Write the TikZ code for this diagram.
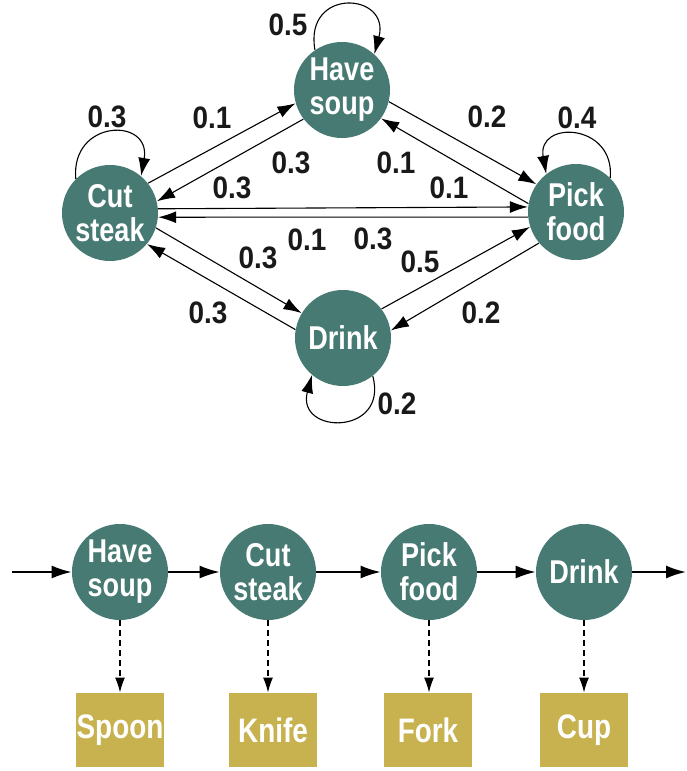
\documentclass[tikz,border=0pt]{standalone}
\usepackage{fontspec}
\newfontfamily\condfont[FakeStretch=0.82]{Liberation Sans}
\newfontfamily\probfont[FakeStretch=0.9]{Liberation Sans}
\usetikzlibrary{arrows.meta}

\definecolor{stateteal}{HTML}{467A73}
\definecolor{toolgold}{HTML}{C8B250}

\tikzset{
    state/.style={circle, fill=stateteal, minimum size=48pt, inner sep=0pt,
        text=white, align=center, font=\condfont\bfseries\fontsize{16.5}{17}\selectfont},
    tool/.style={rectangle, fill=toolgold, minimum width=44pt, minimum height=37pt,
        inner sep=0pt, text=white, font=\condfont\bfseries\fontsize{17}{17}\selectfont},
    prob/.style={inner sep=0pt, text=black!90, font=\probfont\bfseries\fontsize{15.5}{15.5}\selectfont},
    trans/.style={-{Latex[length=9pt,width=6pt]}, line width=0.55pt},
    flow/.style={-{Latex[length=10pt,width=6.5pt]}, line width=0.9pt},
    emits/.style={dash pattern=on 3pt off 2pt, -{Latex[length=7.5pt,width=5pt]}, line width=0.7pt}
}

\begin{document}
\begin{tikzpicture}[x=0.5pt, y=0.5pt]
    \useasboundingbox[fill=white] (0,0) rectangle (686,-771);

    % state graph
    \node[state] (soup)  at (342,-90)  {Have\\soup};
    \node[state] (steak) at (110,-213) {Cut\\steak};
    \node[state] (pick)  at (576,-212) {Pick\\food};
    \node[state] (drink) at (343,-338) {Drink};

    \draw[trans] (soup.124) .. controls +(100:64) and +(75:64) .. (soup.48);
    \draw[trans] (steak.135) .. controls +(95:60) and +(80:60) .. (steak.50);
    \draw[trans] (pick.45) .. controls +(85:55) and +(100:55) .. (pick.128);
    \draw[trans] (drink.-52) .. controls +(-75:62) and +(-105:62) .. (drink.-130);

    \draw[trans] (steak.38)  -- (soup.196);
    \draw[trans] (soup.217)  -- (steak.14);
    \draw[trans] (soup.-14)  -- (pick.145);
    \draw[trans] (pick.170)  -- (soup.-36);
    \draw[trans] (steak.5)   -- (pick.174);
    \draw[trans] (pick.186)  -- (steak.-5);
    \draw[trans] (steak.-18) -- (drink.149);
    \draw[trans] (drink.170) -- (steak.-40);
    \draw[trans] (drink.37)  -- (pick.198);
    \draw[trans] (pick.220)  -- (drink.9);

    \node[prob] (p-soup)  at (288,-25)  {0.5};
    \node[prob] (p-steak) at (107,-117) {0.3};
    \node[prob] (p-pick)  at (577,-118) {0.4};
    \node[prob] (p-drink) at (397,-404) {0.2};
    \node[prob] (p-cs-hs) at (212,-118) {0.1};
    \node[prob] (p-hs-cs) at (291,-163) {0.3};
    \node[prob] (p-hs-pf) at (487,-117) {0.2};
    \node[prob] (p-pf-hs) at (396,-163) {0.1};
    \node[prob] (p-pf-cs) at (232,-188) {0.3};
    \node[prob] (p-cs-pf) at (449,-188) {0.1};
    \node[prob] (p-mid-a) at (307,-240) {0.1};
    \node[prob] (p-mid-b) at (373,-239) {0.3};
    \node[prob] (p-cs-dr) at (258,-258) {0.3};
    \node[prob] (p-dr-pf) at (420,-262) {0.5};
    \node[prob] (p-dr-cs) at (208,-313) {0.3};
    \node[prob] (p-pf-dr) at (481,-313) {0.2};

    % one path through the states, with the tool each one uses
    \coordinate (in)  at (12,-572);
    \coordinate (out) at (686,-572);
    \node[state] (s1) at (120,-572) {Have\\soup};
    \node[state] (s2) at (268,-572) {Cut\\steak};
    \node[state] (s3) at (429,-572) {Pick\\food};
    \node[state] (s4) at (584,-572) {Drink};

    \node[tool] (t1) at (120,-730) {Spoon};
    \node[tool] (t2) at (273,-730) {Knife};
    \node[tool] (t3) at (428,-730) {Fork};
    \node[tool] (t4) at (584,-730) {Cup};

    \draw[flow] (in) -- (s1);
    \draw[flow] (s1) -- (s2);
    \draw[flow] (s2) -- (s3);
    \draw[flow] (s3) -- (s4);
    \draw[flow] (s4) -- (out);

    \draw[emits] (s1) -- (s1 |- t1.north);
    \draw[emits] (s2) -- (s2 |- t2.north);
    \draw[emits] (s3) -- (s3 |- t3.north);
    \draw[emits] (s4) -- (s4 |- t4.north);
\end{tikzpicture}
\end{document}
